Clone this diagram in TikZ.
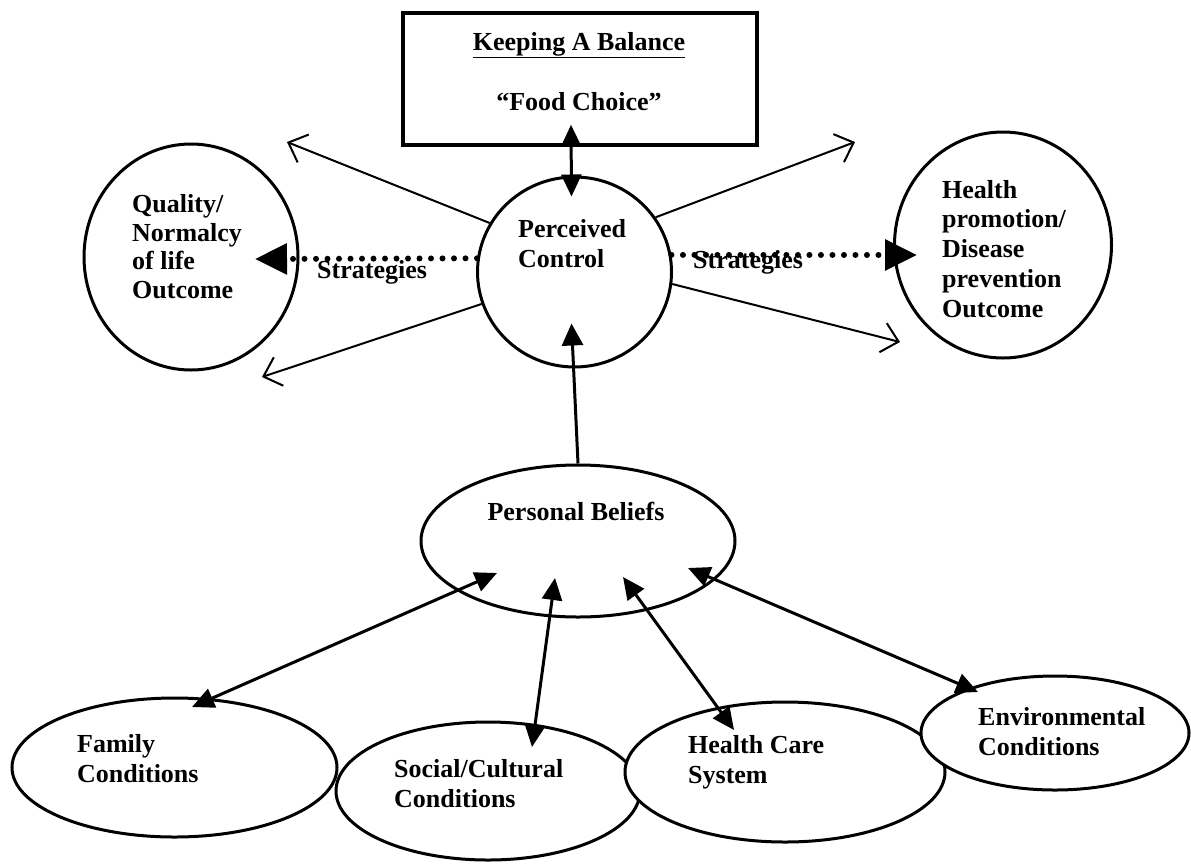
\documentclass[tikz,border=0pt]{standalone}
\usepackage{fontspec}
\setmainfont{Liberation Serif}
\usetikzlibrary{shapes.geometric,arrows.meta}
\begin{document}
\begin{tikzpicture}[x=1pt,y=-1pt,
  txt/.style={font=\fontsize{26}{30}\selectfont\bfseries, inner sep=0pt, align=left},
  oval/.style={ellipse, draw, line width=3pt, fill=white, inner sep=0pt},
  thinarrow/.style={line width=2pt, -{Straight Barb[length=16pt,width=30pt]}},
  dbl/.style={line width=3pt, {Triangle[length=22pt,width=20pt]}-{Triangle[length=22pt,width=20pt]}},
  dotarrow/.style={line width=6pt, line cap=round, dash pattern=on 0pt off 11.5pt, -{Triangle[length=32pt,width=30pt]}}
]
\useasboundingbox (0,0) rectangle (1191,863);
% top box
\node[draw, line width=3.5pt, minimum width=354pt, minimum height=132pt, inner sep=0pt] (box) at (580,79) {};
\node[txt, anchor=base] (kab) at (579,50) {\underline{Keeping A Balance}};
\node[txt, anchor=base] (fc) at (579,110) {“Food Choice”};
% circles
\node[oval, minimum width=194pt, minimum height=190pt] (pc) at (574.5,272) {};
\node[oval, minimum width=214pt, minimum height=226pt] (ql) at (191,257) {};
\node[oval, minimum width=217pt, minimum height=226pt] (hp) at (1003,245) {};
\node[txt, anchor=base west] (pct) at (518,267) {Perceived\\Control};
\node[txt, anchor=base west, font=\fontsize{26}{28.5}\selectfont\bfseries] (qlt) at (132,298) {Quality/\\Normalcy\\of life\\Outcome};
\node[txt, anchor=base west, font=\fontsize{26}{29.7}\selectfont\bfseries] (hpt) at (942,317) {Health\\promotion/\\Disease\\prevention\\Outcome};
% personal beliefs
\node[oval, minimum width=314pt, minimum height=152pt] (pb) at (578,541) {};
\node[txt, anchor=base] (pbt) at (576,520) {Personal Beliefs};
% bottom ellipses
\node[oval, minimum width=325pt, minimum height=139pt] (fam) at (174.5,767.5) {};
\node[oval, minimum width=304pt, minimum height=138pt] (soc) at (488,791) {};
\node[oval, minimum width=320pt, minimum height=140pt] (hcs) at (785,772) {};
\node[oval, minimum width=268pt, minimum height=114pt] (env) at (1055,733) {};
\node[txt, anchor=base west] (famt) at (77,782) {Family\\Conditions};
\node[txt, anchor=base west] (soct) at (394,807) {Social/Cultural\\Conditions};
\node[txt, anchor=base west] (hcst) at (688,783) {Health Care\\System};
\node[txt, anchor=base west] (envt) at (978,755) {Environmental\\Conditions};
% strategies labels
\node[txt, anchor=base west] (strl) at (317,278) {Strategies};
\node[txt, anchor=base west] (strr) at (693,268) {Strategies};
% free ends
\coordinate (ulEnd) at (287,142);
\coordinate (llEnd) at (262,377);
\coordinate (urEnd) at (855,142);
\coordinate (lrEnd) at (900,342);
\coordinate (qlTip) at (255,259);
\coordinate (hpTip) at (917,255);
\coordinate (famTip) at (192,707);
\coordinate (pbF) at (497,573);
\coordinate (socTip) at (532,747);
\coordinate (pbS) at (555,578);
\coordinate (hcsTip) at (734,730);
\coordinate (pbH) at (623,577);
\coordinate (envTip) at (978,692);
\coordinate (pbE) at (688,568);
% connectors
\draw[dbl] ([shift={(-9,-22)}]box.south) -- ([shift={(-3,21)}]pc.north);
\draw[thinarrow] (pc.150) -- (ulEnd);
\draw[thinarrow] (pc.199) -- (llEnd);
\draw[thinarrow] (pc.34) -- (urEnd);
\draw[thinarrow] (pc.-7) -- (lrEnd);
\draw[dotarrow] (pc.172) -- (qlTip);
\draw[dotarrow] (pc.10) -- (hpTip);
\draw[line width=3pt, -{Triangle[length=22pt,width=21pt]}] (pb.north) -- ([shift={(-3,-45)}]pc.south);
\draw[dbl] (pbF) -- (famTip);
\draw[dbl] (pbS) -- (socTip);
\draw[dbl] (pbH) -- (hcsTip);
\draw[dbl] (pbE) -- (envTip);
\end{tikzpicture}
\end{document}
